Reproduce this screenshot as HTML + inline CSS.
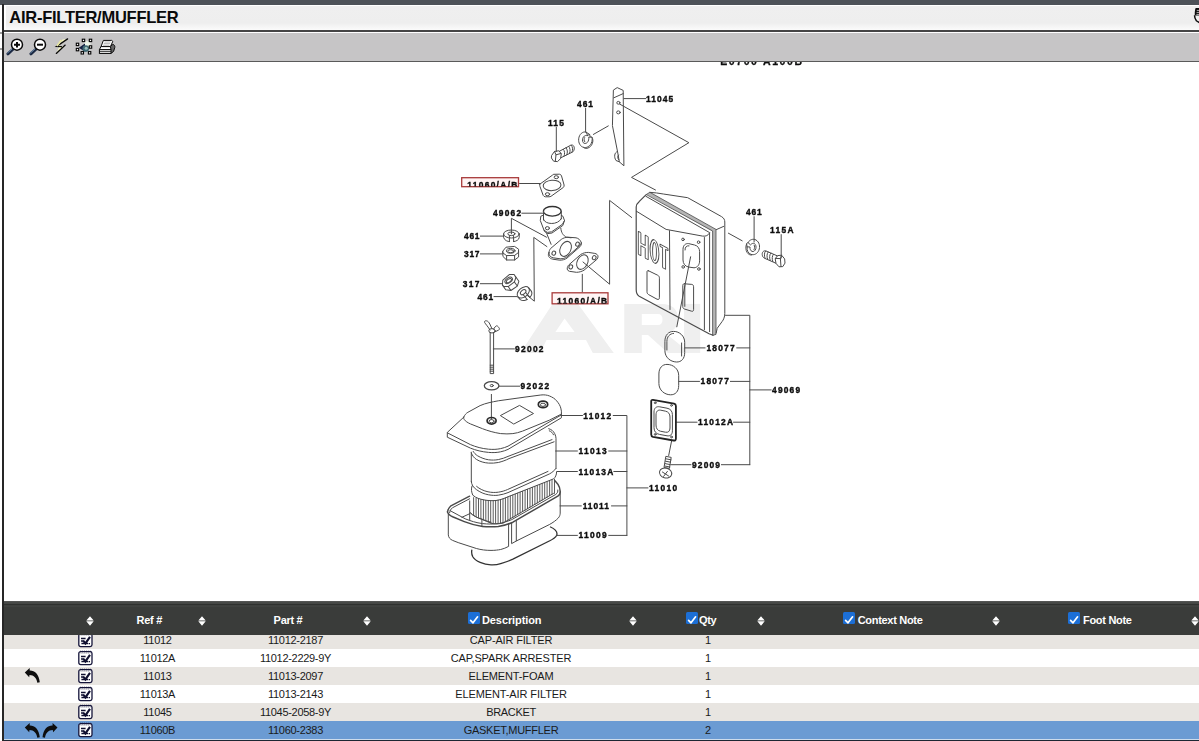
<!DOCTYPE html>
<html>
<head>
<meta charset="utf-8">
<title>AIR-FILTER/MUFFLER</title>
<style>
html,body{margin:0;padding:0;}
body{width:1199px;height:741px;overflow:hidden;background:#fff;position:relative;font-family:"Liberation Sans",sans-serif;color:#111;}
.abs{position:absolute;}
#topbar{left:0;top:0;width:1199px;height:4.5px;background:#4d5258;}
#lborder{left:2px;top:4px;width:2px;height:737px;background:#262626;}
#title{left:6px;top:6.2px;width:1193px;height:23.6px;background:linear-gradient(#efefef 0,#eeeeee 17px,#f4f4f4 20px,#fafafa 23.6px);}
#title span{position:absolute;left:3.3px;top:1.5px;font-weight:bold;font-size:16.5px;line-height:18px;color:#0b0b0b;white-space:nowrap;letter-spacing:-0.26px;}
#line1{left:4px;top:29.7px;width:1195px;height:2px;background:#454545;}
#toolbar{left:4px;top:33px;width:1195px;height:27.8px;background:#c6c5c6;}
#line2{left:4px;top:60.7px;width:1195px;height:1.3px;background:#5a5a5a;}
#thead{left:4px;top:601px;width:1195px;height:34.2px;background:#3a3c3a;}
#thead .hl{position:absolute;left:0;top:0;width:100%;height:6.5px;background:linear-gradient(#5a5b5a 0,#484a48 1.5px,#454745 2.5px,#2f312f 3.2px,#2f312f 4px,#414341 4.6px,#3f413f 6px,#3a3c3a 6.5px);}
.row{left:4px;width:1195px;height:18px;}
.odd{background:#e8e5e1;}
.sel{background:#6b9bd3;}
.cell{position:absolute;top:0;height:18px;line-height:18px;font-size:11px;text-align:center;white-space:nowrap;color:#1a1a1a;letter-spacing:-0.3px;}
.th{position:absolute;top:12px;height:14px;line-height:14px;font-size:11px;font-weight:bold;color:#fff;white-space:nowrap;letter-spacing:-0.3px;}
.sort{position:absolute;top:14.5px;width:8px;height:11px;}
.cb{position:absolute;top:10.5px;width:12px;height:12px;background:#1c6fd6;border-radius:1.5px;}
#bottomline{left:4px;top:739px;width:1195px;height:2px;background:#1d2733;border-top:1px solid #cddcec;box-sizing:border-box;}
</style>
</head>
<body>
<div id="topbar" class="abs"></div>
<div id="lborder" class="abs"></div>
<div id="title" class="abs"><span>AIR-FILTER/MUFFLER</span></div>
<div id="line1" class="abs"></div>
<div id="toolbar" class="abs"></div>
<div id="line2" class="abs"></div>
<svg class="abs" style="left:0;top:0" width="1199" height="64" viewBox="0 0 1199 64">
<!-- left ticks -->
<rect x="0" y="32.3" width="2" height="1.4" fill="#777"/>
<rect x="0" y="48.3" width="2" height="1.4" fill="#777"/>
<!-- zoom in -->
<g>
<path d="M13.2 49L7.9 53.8" stroke="#1c2a44" stroke-width="3" stroke-linecap="round"/>
<path d="M12.4 48.6L7.6 52.9" stroke="#6f8fb0" stroke-width="1" stroke-linecap="round"/>
<circle cx="17" cy="44.7" r="5.5" fill="#fff" stroke="#0a0a0a" stroke-width="1.5"/>
<path d="M14 44.7H20M17 41.9V47.5" stroke="#0a0a0a" stroke-width="2"/>
</g>
<!-- zoom out -->
<g>
<path d="M36.2 49L30.9 53.8" stroke="#1c2a44" stroke-width="3" stroke-linecap="round"/>
<path d="M35.4 48.6L30.6 52.9" stroke="#6f8fb0" stroke-width="1" stroke-linecap="round"/>
<circle cx="40" cy="44.7" r="5.5" fill="#fff" stroke="#0a0a0a" stroke-width="1.5"/>
<path d="M37 44.7H43" stroke="#0a0a0a" stroke-width="2"/>
</g>
<!-- lightning -->
<g>
<path d="M62.5 39.6L67.6 38.9L57 46.4L61.6 46.6L65 45.2L56.4 53.3" fill="#fbfbc8" stroke="none"/>
<path d="M67.6 38.9L56.6 46.5L61.4 46.7M65.2 45.1L56.3 53.4" fill="none" stroke="#0a0a0a" stroke-width="1.3" stroke-linecap="round"/>
<path d="M61.4 40L57 46" stroke="#e8e8a0" stroke-width="1.6"/>
</g>
<!-- select icon -->
<g>
<rect x="84.2" y="41.2" width="6.2" height="5.6" rx="2" fill="#eef6ea"/>
<path d="M85 43.6L78.8 47.8L85 51.8Z" fill="#141f42"/>
<circle cx="85.8" cy="48.6" r="3.3" fill="#3f6a74"/>
<circle cx="86.2" cy="48.2" r="1.5" fill="#9fc2c0"/>
<g fill="#fff" stroke="#050505" stroke-width="1.1">
<rect x="82.3" y="39.2" width="2.4" height="2.4"/>
<rect x="89.3" y="39.2" width="2.4" height="2.4"/>
<rect x="76.3" y="43.2" width="2.4" height="2.4"/>
<rect x="89.3" y="45.8" width="2.4" height="2.4"/>
<rect x="76.3" y="48.4" width="2.4" height="2.4"/>
<rect x="81.1" y="51.6" width="2.4" height="2.4"/>
<rect x="88.4" y="51.6" width="2.4" height="2.4"/>
</g>
</g>
<!-- printer -->
<g stroke="#0a0a0a" stroke-width="1" stroke-linejoin="round">
<path d="M103.4 40.4H111.6L112.8 41.4L110.4 46.6H101Z" fill="#fff"/>
<path d="M104.4 42H110.6M103.8 43.6H110M103 45.2H109.4" stroke="#999" stroke-width="0.7"/>
<path d="M101 46.6H110.4L112.8 44.4C114.4 44.6 115 46 114.8 47.4L113.6 51.4L111 53.4H99.4Z" fill="#666"/>
<path d="M99.4 49.6L101 46.6H110.4L111 49.6Z" fill="#fff"/>
<path d="M99.4 49.6H111V53.4H99.4Z" fill="#f4f4f4"/>
<path d="M99.4 51.4H111" stroke-width="0.8"/>
</g>
<!-- top-right partial icon -->
<path d="M1195.6 8.1H1199V15.6H1194.8C1194.6 13 1194.9 10 1195.6 8.1Z" fill="#0c0c0c"/>
<path d="M1196.8 10.4H1199M1196.6 12.4H1199M1196.4 14.4H1199" stroke="#d8d8d8" stroke-width="0.8"/>
<path d="M1194.6 15.2C1194.4 17.6 1195.4 19.4 1196.4 20.8L1199.4 22.6" fill="#fff" stroke="#0c0c0c" stroke-width="1.5"/>
</svg>

<svg id="diagram" class="abs" style="left:0;top:0" width="1199" height="741" viewBox="0 0 1199 741">
<defs><clipPath id="dclip"><rect x="4" y="62" width="1195" height="539"/></clipPath>
<clipPath id="box1"><rect x="461" y="177" width="58" height="9.6"/></clipPath>
<clipPath id="box2"><rect x="551.5" y="292" width="57" height="11.6"/></clipPath>
<filter id="soft" x="0" y="0" width="1199" height="741" filterUnits="userSpaceOnUse"><feGaussianBlur stdDeviation="0.35"/></filter>
</defs>
<g clip-path="url(#dclip)"><g filter="url(#soft)">
<g fill="#efefef" stroke="none">
<path d="M520.4 352.9L552.5 303.9H578L613.8 352.9H592.8L586 340H546.5L540.2 352.9Z M564.6 318.5L555.4 331.9H574.6Z" fill-rule="evenodd"/>
<path d="M624.3 303.9H662C672 303.9 678 309 678 319C678 327 673 332 666 333.5L690 352.9H668L648 335H641.8V352.9H624.3Z M641.8 314V325H658C661 325 662.5 323 662.5 319.5C662.5 316 661 314 658 314Z" fill-rule="evenodd"/>
<rect x="684" y="303.9" width="16.2" height="49"/>
</g>

<g fill="none" stroke="#4a4a4a" stroke-width="1" stroke-linecap="round" stroke-linejoin="round">
<!-- leader lines -->
<path d="M624 98.6H645.8"/>
<path d="M585.6 108.3V132"/>
<path d="M556.3 127.2V151.5"/>
<path d="M593.4 134.4L608.3 125.9"/>
<path d="M619.5 104L688.9 142.7L631.5 177.4L655.5 190"/>
<path d="M519.5 183.5H540"/>
<path d="M521.8 213.2H543"/>
<path d="M511.4 233.8V218.3L546.5 237.2"/>
<path d="M480.4 236.1H503.3"/>
<path d="M480.4 253.9H502.6"/>
<path d="M480.4 283.7H502"/>
<path d="M494 296.6H516.8"/>
<path d="M546.9 246.6L533.8 237.4L534.3 301.2L527 295.2"/>
<path d="M582.3 292V274.3"/>
<path d="M583 262L609.6 284.2V200.4L631.7 217.5"/>
<path d="M754.1 216.7V242"/>
<path d="M728.4 233.2L742.2 240.8"/>
<path d="M781.2 234.6V258"/>
<path d="M725.5 315.3H749.8V464.7"/>
<path d="M749.8 389.9H771.2"/>
<path d="M684.9 347.9H705.1M736.7 347.9H749.8"/>
<path d="M678.9 381.4H699.5M730.4 381.4H749.8"/>
<path d="M676.4 422.2H697.1M733.5 422.2H749.8"/>
<path d="M671.1 464.7H691M721.4 464.7H749.8"/>
<path d="M690.6 256.8L676.8 326.8"/>
<path d="M671.6 440.9L668.7 455.5"/>
<path d="M493.3 348.9H514.4"/>
<path d="M499.4 386.2H519.8"/>
<path d="M491.4 394.4V419.3"/>
<path d="M561.4 415.5H582.5M613.2 415.5H626.9V535.4"/>
<path d="M555.6 451H577.4M608.7 451H626.9"/>
<path d="M556.9 471.5H577.4M613.8 471.5H626.9"/>
<path d="M560 505.9H581.3M611.5 505.9H626.9"/>
<path d="M557.4 535.4H577.4M608.7 535.4H626.9"/>
<path d="M626.9 487.9H648"/>
<!-- bracket 11045 -->
<path d="M613.7 89.9L617.2 87.6L623.2 90.4L623.9 165.8L619.3 161.8L617.8 153L612.5 126Z"/>
<path d="M613.8 97.8L623.2 93.6"/>
<ellipse cx="618.4" cy="102.8" rx="1.6" ry="1.4"/>
<ellipse cx="618.4" cy="112.4" rx="1.8" ry="1.5"/>
<path d="M617.3 151.5C614.3 152.5 613.8 157 616 160.5L619.3 161.8"/>
<path d="M618.6 155C617.3 156 617.4 158.5 618.8 159.8"/>
<!-- washer 461 top -->
<path d="M585.9 132C582.6 131.2 579.2 134.2 578.7 138.8C578.3 143 580.2 146.4 583.6 147.4C586.4 148.2 589.6 146.4 591.2 143.4C592.4 141 592.4 138.6 591.8 137L588.7 137.2C589 139 588.6 141 587.4 142.4C586 143.8 584.2 143.8 583.2 142.6C582.2 141.2 582.2 138.6 583.4 137C584.4 135.6 586 135.2 587.2 135.6Z"/>
<path d="M585.9 132L589.6 134.4L587.2 135.6M589.6 134.4L590.2 136.8M591.8 137C593.2 138.6 593.2 141.4 592.2 143.8C590.8 147 587.6 149 584.8 148.2L583.6 147.4"/>
<path d="M584.6 137.6C583.8 139 583.9 140.8 584.8 141.8"/>
<!-- bolt 115 -->
<path d="M551.8 155.2L554.5 151.4L558.8 150.8L561.3 153.6L560.6 158.6L557.5 161.6L553.6 161.2L551.6 158.3Z"/>
<path d="M554.5 151.4L556 154.8L555.3 161.4M556 154.8L560.9 153.5"/>
<path d="M559.5 151.2L570.8 145.2C573.2 144.3 574.6 146.5 574.2 149C574 150.8 573.2 151.8 572 152.3L560.8 157.8"/>
<path d="M563.3 149.3C564.8 150.8 565 153.8 564 156.2M566 147.8C567.6 149.4 567.8 152.4 566.8 154.8M568.7 146.4C570.3 148 570.5 151 569.5 153.4M571.2 145.2C572.8 146.7 573 149.6 572 152.2"/>
<!-- gasket top 11060 -->
<path d="M539.8 184.2L552.4 175.2C553 174.5 553.4 174.3 554 174.3L559.4 174.2C560.6 174.3 561.2 175 561.5 175.9L564.1 185C564.2 186 564 186.8 563.4 187.4L551 196.3C550.4 196.7 549.8 196.8 549 196.8L545.4 196.8C544.4 196.7 543.6 196.2 543.2 195.4L540 186.6C539.7 185.6 539.6 184.9 539.8 184.2Z"/>
<ellipse cx="552.1" cy="185.4" rx="8.9" ry="5.2" transform="rotate(-4 552.1 185.4)"/>
<ellipse cx="556.3" cy="177.2" rx="2.2" ry="1.5"/>
<ellipse cx="547.5" cy="194.2" rx="2.2" ry="1.5"/>
<!-- pipe 49062 -->
<ellipse cx="552.3" cy="211.3" rx="8.9" ry="4.8" stroke="#333" stroke-width="1.4"/>
<path d="M543.5 211.4V220M561.3 211.4V218.9"/>
<path d="M543.5 219.4C545 224.8 558 225.4 561.3 218.6"/>
<path d="M543.4 215.2L540.8 216.2L540.3 220.5L544 230.2L547.3 232.4L551.6 231.8L562.4 224.3L564.5 220.5L562.9 216.2L561.4 215.4"/>
<path d="M544 230.2L544.6 231.6L547.8 233.6L552 233L562.8 225.5L564.5 220.5"/>
<ellipse cx="547.4" cy="228.2" rx="2" ry="1.6"/>
<path d="M546.7 233.5L551.1 244.3M560.8 228.1C561 230.4 561.6 232 562.4 233.5C563.6 235.4 565 236.6 566.7 237.2L571 237.8"/>
<!-- pipe lower flange -->
<path d="M548.9 252.9C549 251.2 549.6 249.8 550.5 248.6L561.3 239.4C563.2 238 565.4 237.4 567.8 237.2L576 237.8C578.4 238.2 580.4 240 581.3 242.6C581.4 243.6 581 244.6 580.2 245.3L567.2 256.7C565 258.2 562.8 258.8 560.2 258.8L553.2 257.8C551.4 257.4 550 256.4 549.4 255.1C549 254.4 548.8 253.6 548.9 252.9Z"/>
<path d="M548.9 252.9C548.2 254.2 548.2 255.4 548.7 256.4C549.4 257.8 550.8 258.8 552.8 259.2L559.8 260.2C562.4 260.2 564.8 259.6 567 258.1L580 246.7C580.8 246 581.3 245 581.3 242.6"/>
<ellipse cx="565.6" cy="248.9" rx="5.3" ry="7.9" transform="rotate(25 565.6 248.9)"/>
<ellipse cx="577.5" cy="244.2" rx="1.8" ry="2.1" transform="rotate(25 577.5 244.2)"/>
<ellipse cx="553.8" cy="253.2" rx="1.8" ry="2.1" transform="rotate(25 553.8 253.2)"/>
<!-- gasket lower -->
<path d="M567.2 268.6C567.3 267 567.9 265.8 568.9 264.8L580.7 254.5C583 253 585.6 252.4 588.3 252.4L594.8 253.4C596.6 253.8 597.8 254.8 598 256.1C598.1 257.4 597.7 258.5 596.9 259.4L584 270.2C581.6 271.6 579 272.3 576.4 272.3L569.4 271.3C568.2 270.9 567.4 270.2 567.2 269.4Z"/>
<ellipse cx="582.4" cy="262.1" rx="5.2" ry="7.7" transform="rotate(27 582.4 262.1)"/>
<ellipse cx="594.2" cy="257.7" rx="1.8" ry="2.1" transform="rotate(27 594.2 257.7)"/>
<ellipse cx="570.8" cy="266.9" rx="1.8" ry="2.1" transform="rotate(27 570.8 266.9)"/>
<!-- washer 461 mid-left -->
<ellipse cx="511.4" cy="234" rx="7.8" ry="4"/>
<ellipse cx="511.4" cy="233.8" rx="3.6" ry="1.8"/>
<path d="M503.6 234V237.4C504.4 240.6 508 241.6 509.4 241.6M513.6 241.6C516 241.4 519 240 519.2 237.4V234"/>
<path d="M509.4 235.6V241.6M513.6 235.6V241.6"/>
<!-- nut 317 upper -->
<path d="M502.9 251L506 247.2L514.5 246.4L518.6 249.2L518.4 252.6L514.6 255.4L506.6 255.6L503 253Z"/>
<ellipse cx="510.7" cy="250.8" rx="4.3" ry="2.4"/>
<ellipse cx="510.7" cy="251.2" rx="3" ry="1.5"/>
<path d="M502.9 251.5V256.4L506.6 260L514.6 260L518.6 257V251M506.6 255.6V260M514.6 255.4V260"/>
<!-- nut 317 lower -->
<g transform="rotate(-35 510 282.6)">
<path d="M502.4 280.2L505.6 276.4L514 275.6L518 278.4L517.8 281.8L514 284.6L506.2 284.8L502.6 282.2Z"/>
<ellipse cx="510.2" cy="280" rx="4.2" ry="2.5"/>
<ellipse cx="510.2" cy="280.4" rx="2.9" ry="1.5"/>
<path d="M502.4 280.7V286L506.2 289.6L514 289.6L518 286.6V280.5M506.2 284.8V289.6M514 284.6V289.6"/>
</g>
<!-- washer 461 lower -->
<g transform="rotate(-40 524.2 293.4)">
<ellipse cx="524.2" cy="292" rx="7" ry="4.6"/>
<ellipse cx="524.2" cy="291.8" rx="3.2" ry="2"/>
<path d="M517.2 292V295.6C518 298.8 521.4 300 522.6 300M526 300C528.4 299.8 531 298.4 531.2 295.6V292"/>
<path d="M522.6 294V300M526 294V300"/>
</g>
<!-- washer 461 right -->
<path d="M748.2 242.2C749.8 239.6 753.2 238.4 756 240C759.4 242 760.4 246.6 758.8 250.4C757.4 253.8 754 255.4 751 254.4C748.4 253.6 746.6 250.4 747.1 246.8L750 247C749.8 249 750.6 250.8 752 251.4C753.6 252 755.2 250.8 755.8 248.8C756.4 246.6 755.8 244.4 754.4 243.6C753.2 243 751.8 243.4 750.8 244.6Z"/>
<path d="M748.2 242.2L746.6 243.8L747.1 246.8M746.6 243.8C745.4 246.6 745.6 250.2 747.2 252.6C748.4 254.4 750 255.2 751.6 255"/>
<path d="M754.2 245.2C754.8 246.4 754.8 248.2 754 249.6"/>
<!-- bolt 115A -->
<path d="M784.4 258.6L781.6 255.2L777.6 255.6L775.2 258.8L776 263.4L779 266.8L782.8 266.6L784.8 263.4Z"/>
<path d="M781.6 255.2L780.4 258.6L781 266.6M780.4 258.6L775.4 258.4"/>
<path d="M777.2 255.8L766 251C763.6 250.2 762 252.2 762.2 254.6C762.4 256.4 763.2 257.6 764.4 258.2L775.8 263.2"/>
<path d="M773.4 254.3C772 256 771.8 259 772.8 261.6M770.8 253.1C769.4 254.8 769.2 257.8 770.2 260.4M768.2 252C766.8 253.6 766.6 256.6 767.6 259.2M765.6 251C764.2 252.6 764 255.4 765 258.2"/>
<!-- MUFFLER -->
<!-- seam band -->
<path d="M646.6 194.3L649.9 192.3L716 229.4V334.4L712.6 335.4V231.4Z" fill="#b5b5b5" stroke-width="0.8"/>
<path d="M645.9 196.3L709.6 232.6V331.6"/>
<!-- front shell outline -->
<path d="M646.2 194.6L639.1 201.7C637 203.4 636.2 205 636.2 207V289.5C636.2 293 637.2 295 639.2 296.2L709.1 333.7L713 335.2" stroke-width="1.2"/>
<!-- bevel -->
<path d="M636.4 211.2L666.1 229.4L702.6 236.1C706 236.5 708 235.5 709.6 233"/>
<path d="M669.5 230.7L670 309.5"/>
<path d="M704.4 237.5V329.6"/>
<!-- back shell -->
<path d="M649.9 192.3C654 192.4 659 193.4 663.4 194L687.7 197.7L721.5 216.6C724 218 724.8 220 724.8 222V313.4C724.8 317 723.4 320 722.2 321.4L717.2 328.3L716.2 333"/>
<path d="M716.4 229.6L723.6 226.4"/>
<!-- HOT -->
<g transform="translate(638.3 231.3) skewY(28.8)" stroke-width="0.9" stroke-linejoin="round">
<path d="M0.3 0H2.3L2.6 0.3V10.4H6.9V0.3L7.2 0H9.6L9.9 0.3V22.7L9.6 23H7.2L6.9 22.7V13H2.6V22.7L2.3 23H0.3L0 22.7V0.3Z"/>
<ellipse cx="16.2" cy="11.3" rx="4.45" ry="11.6"/>
<ellipse cx="16.2" cy="11.3" rx="1.9" ry="9"/>
<path d="M22 0.8H29.4L29.7 1.1V2.8L29.4 3.1H27.3V22.7L27 23H24.6L24.3 22.7V3.1H22L21.7 2.8V1.1Z"/>
</g>
<!-- ports -->
<path d="M648.6 270.8L657.6 275.2C659 275.9 659.4 276.8 659.4 278.2V297.6C659.4 299.4 658.4 299.8 657 299.2L648.6 294.6C647.4 293.8 647 293 647 291.6V272C647 270.6 647.6 270.3 648.6 270.8Z"/>
<path d="M683 249C683 245.4 685.4 243.2 688.6 243.6L694.6 245C697.8 245.8 699.6 248.4 699.6 251.6V260.8C699.6 264.6 697.6 267.6 694 267.8L688.4 267C685.2 266.4 683 263.6 683 260.4Z"/>
<path d="M685 250C685 247 686.6 245.4 689 245.8"/>
<ellipse cx="683" cy="239.4" rx="1.3" ry="1.3"/>
<ellipse cx="698.6" cy="242.2" rx="1.3" ry="1.3"/>
<ellipse cx="683.2" cy="266.9" rx="1.3" ry="1.3"/>
<ellipse cx="698.9" cy="269" rx="1.3" ry="1.3"/>
<path d="M684.6 283.8L691.8 284.4C693 284.6 693.6 285.4 693.6 286.8V309.4C693.6 311 692.8 311.6 691.6 311.2L684.4 309C683.2 308.6 682.8 307.8 682.8 306.6V285.4C682.8 284.2 683.4 283.7 684.6 283.8Z"/>
<path d="M684.8 285.6V306.4"/>
<!-- 18077 upper oval -->
<path d="M664.9 341C664.9 335 668.6 331.4 673.6 331.4C679.6 331.4 684.7 336 684.7 342.4V352.6C684.7 358.6 681.4 362.2 676.4 362C670.4 361.8 664.9 357.4 664.9 351Z"/>
<path d="M666.9 350V341.4C666.9 336.6 669.8 333.6 673.6 333.4M681.6 343V356"/>
<!-- 18077 lower oval -->
<path d="M658.9 373.6C658.9 367.8 662.4 364.4 667 364.4C673.2 364.4 678.7 369 678.7 375.4V385.4C678.7 391.4 675.4 395 670.4 394.8C664.4 394.6 658.9 390.2 658.9 383.8Z"/>
<!-- cap 11012A -->
<path d="M653 399.9L674 403.7C675.4 404 675.9 404.8 675.9 406V438.6C675.9 440.2 675 440.8 673.6 440.5L653 436.9C651.7 436.6 651.2 435.8 651.2 434.6V401.6C651.2 400.2 651.8 399.7 653 399.9Z" stroke="#222" stroke-width="1.8"/>
<path d="M654 411.6C654 408 656.4 406.2 659.6 406.8L667 408.2C670.4 408.8 672.4 411.2 672.4 414.6V430.8C672.4 434.6 670.2 436.4 667 435.8L659.4 434.4C656 433.8 654 431.4 654 428Z"/>
<path d="M656 414.6C656 411.2 658 409.6 660.8 410.2L665.6 411.2C668.4 411.8 670 414 670 417V428C670 431.2 668.2 432.8 665.4 432.2L660.4 431.2C657.6 430.6 656 428.4 656 425.4Z"/>
<circle cx="655.2" cy="402.8" r="0.9"/><circle cx="671.5" cy="405.4" r="0.9"/><circle cx="671.5" cy="437" r="0.9"/><circle cx="655.2" cy="434.4" r="0.9"/>
<!-- screw 92009 -->
<path d="M666.2 456.4L671.2 457.4L669.4 468.4L664.4 467.6Z"/>
<path d="M665.9 458.8L671 459.8M665.5 461.2L670.6 462.2M665.1 463.6L670.2 464.6M664.7 466L669.8 467"/>
<ellipse cx="665.6" cy="473" rx="6.2" ry="5" transform="rotate(15 665.6 473)"/>
<path d="M662.4 472L668.6 476M667.4 471.4L663.6 476.4"/>
<!-- wing bolt 92002 -->
<path d="M490 330C488.4 327 485.4 324 484.6 322.4C484.2 321.2 485.2 320.6 486.4 320.8C488 321 489 322.4 489.8 324L491.8 328.4"/>
<path d="M493.6 329.2C494.4 327.6 495.6 326 496.6 325.8C497.8 325.8 498.8 327.4 499.4 328.6C499.6 329.4 499.2 330 498.4 330.2L494.6 332"/>
<ellipse cx="492" cy="330.8" rx="3.2" ry="2.2"/>
<path d="M490.2 332.4V373.6H493.6V332.6"/>
<path d="M490.2 365.2H493.6M490.2 367.2H493.6M490.2 369.2H493.6M490.2 371.2H493.6"/>
<!-- washer 92022 -->
<ellipse cx="491.6" cy="385.8" rx="7.3" ry="4.1" stroke-width="1.3"/>
<ellipse cx="491.8" cy="385.6" rx="1.6" ry="1.1"/>
<!-- CAP 11012 -->
<path d="M463.7 417.2C464.8 414.8 466 413.4 467.9 412.3L480.1 405.6C486 403 492 402 498.3 400.8L525 397.1L540.8 395C544 394.6 547 395 549.3 395.9C552.6 397.2 555 398.8 556.6 400.8C558.8 403.4 560.2 405.6 560.8 408.1C561.4 410.4 561.6 412 561.4 414.1L560.2 414.7L549.3 420.2L522.6 431.1C519 432.4 516 433.2 512.9 433.6C509 434 505 434 500.7 433.6C494 432.6 488 430.8 482.5 428.7L470.4 423.9C467.6 422.6 465.4 421.2 464.3 419.6C463.7 418.8 463.5 418 463.7 417.2Z"/>
<path d="M463.7 417.2L447.3 432.4V437.2L470.4 448.1C476 450.4 482 451.8 488.6 452.4C493 452.8 497 452.6 500.7 451.8C503.4 451.2 505.8 450.4 508 449.4L561.4 417.8V414.1"/>
<path d="M447.3 432.8L470.4 444.6C476 447 482 448.6 488.6 449.2C493 449.6 497 449.4 500.7 448.6C503.4 448 505.8 447.2 508 446.2L561.2 415"/>
<path d="M500.7 415.4L519.5 405.4L533.5 413.5L514.1 423.9Z"/>
<ellipse cx="543" cy="404.4" rx="4.7" ry="3.3" stroke="#2a2a2a" stroke-width="1.7"/>
<ellipse cx="543" cy="404.8" rx="2.6" ry="1.6"/>
<ellipse cx="491.6" cy="420.8" rx="4.5" ry="3.3" stroke="#2a2a2a" stroke-width="1.7"/>
<ellipse cx="491.6" cy="421.2" rx="2.5" ry="1.6"/>
<!-- foam 11013 -->
<path d="M548.7 428.7C551.4 429.4 553.4 431 554.7 433.6C555.6 435.4 556 437 556 438.4V468.4"/>
<path d="M549.3 430.8C551.2 431.4 552.6 432.8 553.5 434.8"/>
<path d="M471.3 452.2V481.3"/>
<path d="M471.3 453C472.6 456 474 457.8 476.4 459.4C480 461.6 484 462.8 488.6 463.1C492 463.3 495 463.1 498.3 462.5C502 461.6 506 460.2 509 458.6L554.1 441.8"/>
<path d="M473.2 451.4C474.2 453 475.4 454.4 477.6 455.8C481 457.8 484.6 459.2 488.6 459.8C492 460.2 495 460.2 498.3 459.6C502 458.8 505 457.8 508 456.4L552 439.6"/>
<path d="M471.3 481.3C471.5 485 473.4 487.4 476.4 489.6C480 492.2 484 494 488.6 494.8C492 495.4 495 495.6 498.3 495.2C502 494.6 505 493.8 508 492.6L549.3 474C552 472.6 554.4 470.6 556 468.4"/>
<path d="M476.6 486.4C479.6 489 483.6 490.8 488 491.8C491.6 492.6 495 492.6 498.3 492.2C502 491.6 504.6 490.8 507.4 489.6L548 471.4"/>
<!-- pleated element 11013A -->
<path d="M472 486C471 489 471.4 492 472.8 495.2C476 498 480 499.2 484 499.9C488 500.6 492 500.9 496 500.5C500 500 504 498.6 508 496.8L553.5 478.9C555.4 477.4 556.6 475 556.6 472"/>
<path d="M470.4 512.9C473 515.6 477 517.6 481.3 519.2C484.6 520.4 488 521.4 491 522.2"/>
<!-- case 11011 -->
<path d="M447.5 511.9C447.7 509.6 449 507.6 450.9 505.8L469.6 496.2" stroke-width="1.4"/>
<path d="M449.6 512.6C449.8 510.8 450.8 509.2 452.4 507.8L469.6 498.8"/>
<path d="M447.5 511.9C448 514 450 515.6 452.6 516.8L464.3 521.6C470 523.8 476 525.6 482.5 526.4C488 527 493 527 498.3 526.4C503.6 525.6 508.4 524.2 512.9 522.2L557.8 496.1C559.6 494.8 560.4 493.4 560.2 491.4C560 488.6 559.4 486.4 558 484.4C557 483 555.8 481.6 554.7 480.4" stroke-width="1.5"/>
<path d="M450 510.6L465.2 518.8C470.6 521 476.4 522.8 482.5 523.6C488 524.2 493 524.2 498.3 523.6C503.2 522.8 507.6 521.4 511.8 519.6L555.8 494.4C557.6 493 558 491.6 557.8 490"/>
<path d="M448.3 514.3V534.9C448.6 537.6 450 539.2 452.6 540.4L458.2 542.6L476.4 548.5C481 549.8 486 550.4 491 550.4C495 550.4 498 550 500.7 549.5C503.6 548.8 506 547.8 508.6 546.4V524.4"/>
<path d="M511.6 523.4V543.6L516.3 541V521"/>
<path d="M516.3 541L549.3 524.6C553 522.6 556 520.4 558.4 517.9C559.6 516.4 560.2 514.8 560.2 513.1V492"/>
<path d="M469.7 500.9V520.4M461.9 517.3L469.7 513.7M481.9 519.1V525.6"/>
<!-- gasket 11009 -->
<path d="M471.8 550.1C471.4 552.4 471.8 554.8 472.8 556.8C474.4 559.6 477 561.2 480.1 562.4C483.6 563.8 487 564.6 491 564.8C494.6 565 497.6 564.6 500.7 563.6C505 562.4 509 560.9 512.9 559.2L549.3 541C552.6 539.4 555.4 537.6 556.6 535.5C557.4 533.6 556.8 531.6 555.3 530.1C554 528.8 552.4 527.8 550.5 527" stroke="#333" stroke-width="1.3"/>
<!-- pleats -->
<path d="M473.6 497.6V514.7M476.1 498.3V516.0M478.5 499.0V517.4M480.9 499.7V518.7M483.4 500.1V519.8M485.8 500.4V520.9M488.3 500.7V522.0M490.7 501.0V523.1M493.2 500.7V523.2M495.6 500.4V523.1M498.1 500.1V523.1M500.5 499.8V523.0M503.0 498.9V523.0M505.4 497.9V521.6M507.9 497.0V520.2M510.3 496.0V518.7M512.8 495.1V517.3M515.2 494.1V515.9M517.7 493.2V514.4M520.1 492.2V513.0M522.6 491.3V511.5M525.1 490.3V510.1M527.5 489.3V508.7M530.0 488.4V507.2M532.4 487.4V505.8M534.9 486.5V504.4M537.3 485.5V502.9M539.8 484.6V501.5M542.2 483.6V500.0M544.7 482.7V498.6M547.1 481.7V497.2M549.6 480.7V495.7M552.0 479.8V494.3M554.5 479.2V493.4" stroke-width="0.9"/>
<path d="M470.4 512.9C473 515.6 477 517.6 481.3 518.9L491 523.2C495 524.2 499 524 503.1 523L553.5 493.4"/>

</g>
<g font-family="Liberation Sans, sans-serif" font-weight="bold" font-size="8.4" fill="#0a0a0a" stroke="#0a0a0a" stroke-width="0.35">
<text x="646.00" y="102.20" letter-spacing="1.08">11045</text>
<text x="576.90" y="107.30" letter-spacing="1.08">461</text>
<text x="547.90" y="126.20" letter-spacing="1.28">115</text>
<text x="492.90" y="216.20" letter-spacing="1.23">49062</text>
<text x="463.90" y="239.10" letter-spacing="0.83">461</text>
<text x="463.90" y="256.90" letter-spacing="0.83">317</text>
<text x="462.80" y="286.70" letter-spacing="1.28">317</text>
<text x="477.40" y="300.00" letter-spacing="0.93">461</text>
<text x="746.00" y="214.80" letter-spacing="0.78">461</text>
<text x="770.10" y="232.70" letter-spacing="1.26">115A</text>
<text x="706.50" y="351.00" letter-spacing="1.21">18077</text>
<text x="700.40" y="384.40" letter-spacing="1.33">18077</text>
<text x="772.10" y="393.00" letter-spacing="1.18">49069</text>
<text x="698.00" y="425.10" letter-spacing="1.23">11012A</text>
<text x="691.90" y="468.00" letter-spacing="1.21">92009</text>
<text x="515.10" y="351.90" letter-spacing="1.28">92002</text>
<text x="520.40" y="389.30" letter-spacing="1.38">92022</text>
<text x="583.20" y="418.70" letter-spacing="1.30">11012</text>
<text x="578.40" y="454.00" letter-spacing="1.38">11013</text>
<text x="578.40" y="474.50" letter-spacing="1.19">11013A</text>
<text x="582.70" y="508.90" letter-spacing="0.96">11011</text>
<text x="578.40" y="538.40" letter-spacing="1.38">11009</text>
<text x="648.90" y="490.90" letter-spacing="1.38">11010</text>
</g>
<text x="720.3" y="65.2" font-family="Liberation Sans, sans-serif" font-weight="bold" font-size="10.5" letter-spacing="1.55" word-spacing="0.6" fill="#111" stroke="#111" stroke-width="0.3" xml:space="preserve">E0700 A100B</text>
<rect x="461.7" y="177.7" width="56.8" height="9" fill="#fff4f4" stroke="#a83a3a" stroke-width="1.3"/>
<rect x="552.1" y="292.8" width="55.9" height="11" fill="#fff4f4" stroke="#a83a3a" stroke-width="1.3"/>
<g font-family="Liberation Sans, sans-serif" font-weight="bold" font-size="8.4" fill="#0a0a0a" stroke="#0a0a0a" stroke-width="0.35">
<text clip-path="url(#box1)" x="467.2" y="187.6" letter-spacing="1.32">11060/A/B</text>
<text clip-path="url(#box2)" x="557.0" y="304.0" letter-spacing="1.32">11060/A/B</text>
</g>
</g></g>
</svg>
<div id="rows">
<div class="abs row odd" style="top:631px">
<svg class="abs" style="left:74.3px;top:1.3px" width="15" height="15.4" viewBox="0 0 15 15.4">
<rect x="0.8" y="1.6" width="13.2" height="13" rx="1.8" fill="#fff" stroke="#15153a" stroke-width="1.3"/>
<path d="M2.2 1.5h10.6" stroke="#15153a" stroke-width="1.6" stroke-dasharray="1 0.9"/>
<path d="M2.6 3.4h9.8" stroke="#9a9aaa" stroke-width="0.8" stroke-dasharray="1 0.9"/>
<path d="M3 6.4h4.6M3 8.9h2.8M3.4 11.6h6.6" stroke="#101030" stroke-width="1.5"/>
<path d="M5.2 8.6L7.4 11.4L12 4.8" stroke="#101030" stroke-width="2.1" fill="none"/>
<path d="M10.6 11.6h1.4" stroke="#101030" stroke-width="1.4"/>
</svg>
<div class="cell" style="left:98px;width:111px">11012</div>
<div class="cell" style="left:209px;width:165px">11012-2187</div>
<div class="cell" style="left:374px;width:266px;letter-spacing:-0.17px">CAP-AIR FILTER</div>
<div class="cell" style="left:640px;width:128px">1</div>
</div>
<div class="abs row " style="top:649px">
<svg class="abs" style="left:74.3px;top:1.3px" width="15" height="15.4" viewBox="0 0 15 15.4">
<rect x="0.8" y="1.6" width="13.2" height="13" rx="1.8" fill="#fff" stroke="#15153a" stroke-width="1.3"/>
<path d="M2.2 1.5h10.6" stroke="#15153a" stroke-width="1.6" stroke-dasharray="1 0.9"/>
<path d="M2.6 3.4h9.8" stroke="#9a9aaa" stroke-width="0.8" stroke-dasharray="1 0.9"/>
<path d="M3 6.4h4.6M3 8.9h2.8M3.4 11.6h6.6" stroke="#101030" stroke-width="1.5"/>
<path d="M5.2 8.6L7.4 11.4L12 4.8" stroke="#101030" stroke-width="2.1" fill="none"/>
<path d="M10.6 11.6h1.4" stroke="#101030" stroke-width="1.4"/>
</svg>
<div class="cell" style="left:98px;width:111px">11012A</div>
<div class="cell" style="left:209px;width:165px">11012-2229-9Y</div>
<div class="cell" style="left:374px;width:266px;letter-spacing:-0.14px">CAP,SPARK ARRESTER</div>
<div class="cell" style="left:640px;width:128px">1</div>
</div>
<div class="abs row odd" style="top:667px">
<svg class="abs" style="left:20px;top:0.1px" width="18" height="17" viewBox="0 0 18 17"><path d="M0.8 5.4L5.7 1.1L5.7 3.5C10.4 3.3 14.9 6.8 15.8 15.3L13.3 15.7C12.6 10.8 10 8.1 5.5 7.9L5.2 10.2Z" fill="#0e0e0e"/></svg>
<svg class="abs" style="left:74.3px;top:1.3px" width="15" height="15.4" viewBox="0 0 15 15.4">
<rect x="0.8" y="1.6" width="13.2" height="13" rx="1.8" fill="#fff" stroke="#15153a" stroke-width="1.3"/>
<path d="M2.2 1.5h10.6" stroke="#15153a" stroke-width="1.6" stroke-dasharray="1 0.9"/>
<path d="M2.6 3.4h9.8" stroke="#9a9aaa" stroke-width="0.8" stroke-dasharray="1 0.9"/>
<path d="M3 6.4h4.6M3 8.9h2.8M3.4 11.6h6.6" stroke="#101030" stroke-width="1.5"/>
<path d="M5.2 8.6L7.4 11.4L12 4.8" stroke="#101030" stroke-width="2.1" fill="none"/>
<path d="M10.6 11.6h1.4" stroke="#101030" stroke-width="1.4"/>
</svg>
<div class="cell" style="left:98px;width:111px">11013</div>
<div class="cell" style="left:209px;width:165px">11013-2097</div>
<div class="cell" style="left:374px;width:266px;letter-spacing:-0.15px">ELEMENT-FOAM</div>
<div class="cell" style="left:640px;width:128px">1</div>
</div>
<div class="abs row " style="top:685px">
<svg class="abs" style="left:74.3px;top:1.3px" width="15" height="15.4" viewBox="0 0 15 15.4">
<rect x="0.8" y="1.6" width="13.2" height="13" rx="1.8" fill="#fff" stroke="#15153a" stroke-width="1.3"/>
<path d="M2.2 1.5h10.6" stroke="#15153a" stroke-width="1.6" stroke-dasharray="1 0.9"/>
<path d="M2.6 3.4h9.8" stroke="#9a9aaa" stroke-width="0.8" stroke-dasharray="1 0.9"/>
<path d="M3 6.4h4.6M3 8.9h2.8M3.4 11.6h6.6" stroke="#101030" stroke-width="1.5"/>
<path d="M5.2 8.6L7.4 11.4L12 4.8" stroke="#101030" stroke-width="2.1" fill="none"/>
<path d="M10.6 11.6h1.4" stroke="#101030" stroke-width="1.4"/>
</svg>
<div class="cell" style="left:98px;width:111px">11013A</div>
<div class="cell" style="left:209px;width:165px">11013-2143</div>
<div class="cell" style="left:374px;width:266px;letter-spacing:-0.10px">ELEMENT-AIR FILTER</div>
<div class="cell" style="left:640px;width:128px">1</div>
</div>
<div class="abs row odd" style="top:703px">
<svg class="abs" style="left:74.3px;top:1.3px" width="15" height="15.4" viewBox="0 0 15 15.4">
<rect x="0.8" y="1.6" width="13.2" height="13" rx="1.8" fill="#fff" stroke="#15153a" stroke-width="1.3"/>
<path d="M2.2 1.5h10.6" stroke="#15153a" stroke-width="1.6" stroke-dasharray="1 0.9"/>
<path d="M2.6 3.4h9.8" stroke="#9a9aaa" stroke-width="0.8" stroke-dasharray="1 0.9"/>
<path d="M3 6.4h4.6M3 8.9h2.8M3.4 11.6h6.6" stroke="#101030" stroke-width="1.5"/>
<path d="M5.2 8.6L7.4 11.4L12 4.8" stroke="#101030" stroke-width="2.1" fill="none"/>
<path d="M10.6 11.6h1.4" stroke="#101030" stroke-width="1.4"/>
</svg>
<div class="cell" style="left:98px;width:111px">11045</div>
<div class="cell" style="left:209px;width:165px">11045-2058-9Y</div>
<div class="cell" style="left:374px;width:266px;letter-spacing:-0.33px">BRACKET</div>
<div class="cell" style="left:640px;width:128px">1</div>
</div>
<div class="abs row sel" style="top:721px">
<svg class="abs" style="left:20px;top:0.7px" width="18" height="17" viewBox="0 0 18 17"><path d="M0.8 5.4L5.7 1.1L5.7 3.5C10.4 3.3 14.9 6.8 15.8 15.3L13.3 15.7C12.6 10.8 10 8.1 5.5 7.9L5.2 10.2Z" fill="#0e0e0e"/></svg>
<svg class="abs" style="left:38px;top:0.7px" width="18" height="17" viewBox="0 0 18 17"><path d="M15.5 5.4L10.6 1.1L10.6 3.5C5.9 3.3 1.4 6.8 0.5 15.3L3 15.7C3.7 10.8 6.3 8.1 10.8 7.9L11.1 10.2Z" fill="#0e0e0e"/></svg>
<svg class="abs" style="left:74.3px;top:1.3px" width="15" height="15.4" viewBox="0 0 15 15.4">
<rect x="0.8" y="1.6" width="13.2" height="13" rx="1.8" fill="#fff" stroke="#15153a" stroke-width="1.3"/>
<path d="M2.2 1.5h10.6" stroke="#15153a" stroke-width="1.6" stroke-dasharray="1 0.9"/>
<path d="M2.6 3.4h9.8" stroke="#9a9aaa" stroke-width="0.8" stroke-dasharray="1 0.9"/>
<path d="M3 6.4h4.6M3 8.9h2.8M3.4 11.6h6.6" stroke="#101030" stroke-width="1.5"/>
<path d="M5.2 8.6L7.4 11.4L12 4.8" stroke="#101030" stroke-width="2.1" fill="none"/>
<path d="M10.6 11.6h1.4" stroke="#101030" stroke-width="1.4"/>
</svg>
<div class="cell" style="left:98px;width:111px">11060B</div>
<div class="cell" style="left:209px;width:165px">11060-2383</div>
<div class="cell" style="left:374px;width:266px;letter-spacing:-0.27px">GASKET,MUFFLER</div>
<div class="cell" style="left:640px;width:128px">2</div>
</div>
</div>
<div id="thead" class="abs"><div class="hl"></div>
<svg class="sort" style="left:82.0px" viewBox="0 0 8 11"><path d="M4 0.2L7.7 4.5H0.3Z M4 9.7L7.7 5.3H0.3Z" fill="#fff"/></svg>
<svg class="sort" style="left:194.1px" viewBox="0 0 8 11"><path d="M4 0.2L7.7 4.5H0.3Z M4 9.7L7.7 5.3H0.3Z" fill="#fff"/></svg>
<svg class="sort" style="left:359.4px" viewBox="0 0 8 11"><path d="M4 0.2L7.7 4.5H0.3Z M4 9.7L7.7 5.3H0.3Z" fill="#fff"/></svg>
<svg class="sort" style="left:625.0px" viewBox="0 0 8 11"><path d="M4 0.2L7.7 4.5H0.3Z M4 9.7L7.7 5.3H0.3Z" fill="#fff"/></svg>
<svg class="sort" style="left:752.7px" viewBox="0 0 8 11"><path d="M4 0.2L7.7 4.5H0.3Z M4 9.7L7.7 5.3H0.3Z" fill="#fff"/></svg>
<svg class="sort" style="left:988.4px" viewBox="0 0 8 11"><path d="M4 0.2L7.7 4.5H0.3Z M4 9.7L7.7 5.3H0.3Z" fill="#fff"/></svg>
<svg class="sort" style="left:1187.4px" viewBox="0 0 8 11"><path d="M4 0.2L7.7 4.5H0.3Z M4 9.7L7.7 5.3H0.3Z" fill="#fff"/></svg>
<div class="th" style="left:132.6px;width:30.1px;letter-spacing:-0.30px">Ref #</div>
<div class="th" style="left:269.6px;width:33.7px;letter-spacing:-0.30px">Part #</div>
<div class="th" style="left:478.0px;width:63.1px;letter-spacing:-0.10px">Description</div>
<div class="th" style="left:695.0px;width:21.7px;letter-spacing:-0.30px">Qty</div>
<div class="th" style="left:853.7px;width:70.0px;letter-spacing:-0.30px">Context Note</div>
<div class="th" style="left:1079.0px;width:53.3px;letter-spacing:-0.30px">Foot Note</div>
<div class="cb" style="left:463.9px"><svg width="12" height="12" viewBox="0 0 12 12"><path d="M2.6 6.4L5 8.8L9.6 2.8" fill="none" stroke="#fff" stroke-width="1.7" stroke-linecap="round" stroke-linejoin="round"/></svg></div>
<div class="cb" style="left:681.7px"><svg width="12" height="12" viewBox="0 0 12 12"><path d="M2.6 6.4L5 8.8L9.6 2.8" fill="none" stroke="#fff" stroke-width="1.7" stroke-linecap="round" stroke-linejoin="round"/></svg></div>
<div class="cb" style="left:838.7px"><svg width="12" height="12" viewBox="0 0 12 12"><path d="M2.6 6.4L5 8.8L9.6 2.8" fill="none" stroke="#fff" stroke-width="1.7" stroke-linecap="round" stroke-linejoin="round"/></svg></div>
<div class="cb" style="left:1064.3px"><svg width="12" height="12" viewBox="0 0 12 12"><path d="M2.6 6.4L5 8.8L9.6 2.8" fill="none" stroke="#fff" stroke-width="1.7" stroke-linecap="round" stroke-linejoin="round"/></svg></div>
</div>
<div id="bottomline" class="abs"></div>
</body>
</html>
